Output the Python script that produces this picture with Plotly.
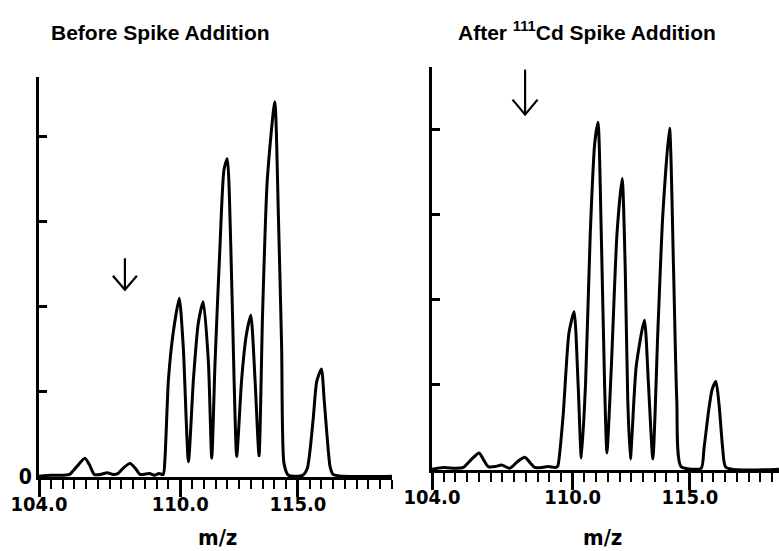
import plotly.graph_objects as go

# ---- data ----
before_mz = [104.0, 104.5, 105.0, 105.3, 105.6, 105.95, 106.15, 106.35, 106.6, 106.9, 107.15, 107.35,
             107.6, 107.87, 108.1, 108.3, 108.7, 108.9, 109.1, 109.28, 109.35, 109.5, 109.7, 109.96,
             110.13, 110.35, 110.56, 110.77, 110.98, 111.2, 111.34, 111.48, 111.69, 111.86, 112.0,
             112.15, 112.29, 112.4, 112.61, 112.8, 113.0, 113.18, 113.35, 113.5, 113.7, 114.02,
             114.17, 114.31, 114.41, 114.6, 115.2, 115.4, 115.52, 115.66, 115.8, 116.0, 116.12,
             116.25, 116.37, 116.5, 119.0]
before_int = [0.01, 0.02, 0.02, 0.03, 0.12, 0.22, 0.14, 0.03, 0.03, 0.05, 0.03, 0.04,
              0.11, 0.16, 0.10, 0.03, 0.04, 0.02, 0.04, 0.03, 0.20, 1.14, 1.69, 2.10,
              1.53, 0.18, 1.14, 1.81, 2.06, 1.34, 0.22, 1.34, 2.71, 3.61, 3.74,
              2.71, 1.14, 0.24, 1.14, 1.65, 1.90, 1.14, 0.25, 1.92, 3.49, 4.41,
              3.10, 1.53, 0.16, 0.02, 0.02, 0.10, 0.32, 0.71, 1.12, 1.27, 0.90,
              0.45, 0.12, 0.03, 0.01]

after_mz = [104.0, 104.5, 105.0, 105.33, 105.7, 106.01, 106.2, 106.4, 106.7, 106.97, 107.32, 107.65,
            107.96, 108.2, 108.38, 108.7, 108.95, 109.3, 109.37, 109.59, 109.84, 110.06, 110.23,
            110.37, 110.55, 110.75, 110.94, 111.08, 111.22, 111.36, 111.46, 111.65, 111.89, 112.11,
            112.24, 112.35, 112.46, 112.71, 113.06, 113.23, 113.42, 113.63, 113.84, 114.13, 114.3,
            114.44, 114.62, 115.48, 115.6, 115.8, 115.95, 116.11, 116.25, 116.4, 116.54, 118.8]
after_int = [0.01, 0.03, 0.02, 0.03, 0.13, 0.20, 0.12, 0.04, 0.04, 0.06, 0.02, 0.10,
             0.15, 0.08, 0.03, 0.03, 0.04, 0.03, 0.05, 0.63, 1.61, 1.86, 1.02,
             0.14, 1.02, 2.78, 3.84, 4.09, 2.78, 1.02, 0.20, 1.22, 2.78, 3.43,
             2.39, 0.82, 0.13, 1.22, 1.76, 1.02, 0.13, 1.61, 2.98, 4.02, 2.39,
             0.82, 0.04, 0.02, 0.25, 0.70, 0.95, 1.04, 0.75, 0.25, 0.03, 0.01]

x_major = [104, 110, 115]
x_major_text = ["104.0", "110.0", "115.0"]
x_minor = [104 + 0.5 * i for i in range(31)]
y_ticks = [0, 1, 2, 3, 4]
titles = ["Before Spike Addition", "After <sup>111</sup>Cd Spike Addition"]
arrow_mz = [107.65, 107.97]
arrow_top = [2.57, 4.71]
arrow_tip = [2.20, 4.18]

W, H = 779, 551
FONT = "DejaVu Sans Condensed, Liberation Sans Narrow, Liberation Sans, sans-serif"
TFONT = "Liberation Sans, Arial, sans-serif"
LW = 3

fig = go.Figure()
fig.add_trace(go.Scatter(x=before_mz, y=before_int, mode="lines", xaxis="x", yaxis="y",
                         line=dict(color="black", width=LW, shape="spline", smoothing=0.6),
                         showlegend=False, hoverinfo="skip"))
fig.add_trace(go.Scatter(x=after_mz, y=after_int, mode="lines", xaxis="x2", yaxis="y2",
                         line=dict(color="black", width=LW, shape="spline", smoothing=0.6),
                         showlegend=False, hoverinfo="skip"))

def xax(dom, rng):
    return dict(domain=dom, range=rng, showgrid=False, zeroline=False, automargin=False,
                showline=True, linecolor="black", linewidth=LW,
                tickmode="array", tickvals=x_major, ticktext=x_major_text,
                ticks="outside", ticklen=17, tickwidth=LW, tickcolor="black",
                ticklabelstandoff=-10,
                tickfont=dict(family=FONT, size=20, color="black", weight="bold"),
                minor=dict(tickmode="array", tickvals=x_minor, ticks="outside",
                           ticklen=9, tickwidth=2, tickcolor="black"),
                fixedrange=True)

def yax(dom, rng, anchor, text):
    return dict(domain=dom, range=rng, anchor=anchor, showgrid=False, zeroline=False,
                automargin=False,
                showline=True, linecolor="black", linewidth=LW,
                tickmode="array", tickvals=y_ticks, ticktext=text,
                ticks="inside", ticklen=8, tickwidth=LW, tickcolor="black",
                tickfont=dict(family=FONT, size=21, color="black", weight="bold"), fixedrange=True)

fig.update_layout(
    width=W, height=H, margin=dict(l=0, r=0, t=0, b=0, autoexpand=False),
    paper_bgcolor="white", plot_bgcolor="white",
    xaxis=dict(**xax([39 / W, 392 / W], [104, 119.0]), anchor="y"),
    yaxis=yax([1 - 477 / H, 1 - 77 / H], [0, 4.7], "x", ["0", "", "", "", ""]),
    xaxis2=dict(**xax([432 / W, 1.0], [104, 118.8]), anchor="y2"),
    yaxis2=yax([1 - 470 / H, 1 - 67 / H], [0, 4.74], "x2", ["", "", "", "", ""]),
)

# titles
fig.add_annotation(text=titles[0], xref="paper", yref="paper", x=160 / W, y=1 - 33 / H,
                   xanchor="center", yanchor="middle",
                   showarrow=False, font=dict(family=TFONT, size=21, color="black", weight="bold"))
fig.add_annotation(text=titles[1], xref="paper", yref="paper", x=587 / W, y=1 - 31 / H,
                   xanchor="center", yanchor="middle",
                   showarrow=False, font=dict(family=TFONT, size=21, color="black", weight="bold"))
# m/z labels
for xc in (217, 602):
    fig.add_annotation(text="m/z", xref="paper", yref="paper", x=xc / W, y=1 - 537 / H,
                       xanchor="center", yanchor="middle",
                       showarrow=False, font=dict(family=FONT, size=22, color="black", weight="bold"))

# open-headed arrows
for i, (xr, yr, ux, uy) in enumerate([("x", "y", 12 / 23.53, 14 / 85.1), ("x2", "y2", 12.5 / 23.45, 15 / 85.0)]):
    xm, yt, yb = arrow_mz[i], arrow_top[i], arrow_tip[i]
    fig.add_shape(type="line", xref=xr, yref=yr, x0=xm, x1=xm, y0=yt, y1=yb,
                  line=dict(color="black", width=2.2))
    fig.add_shape(type="path", xref=xr, yref=yr,
                  path=f"M {xm - ux} {yb + uy} L {xm} {yb} L {xm + ux} {yb + uy}",
                  line=dict(color="black", width=2.2))

fig.write_html("out.html")
